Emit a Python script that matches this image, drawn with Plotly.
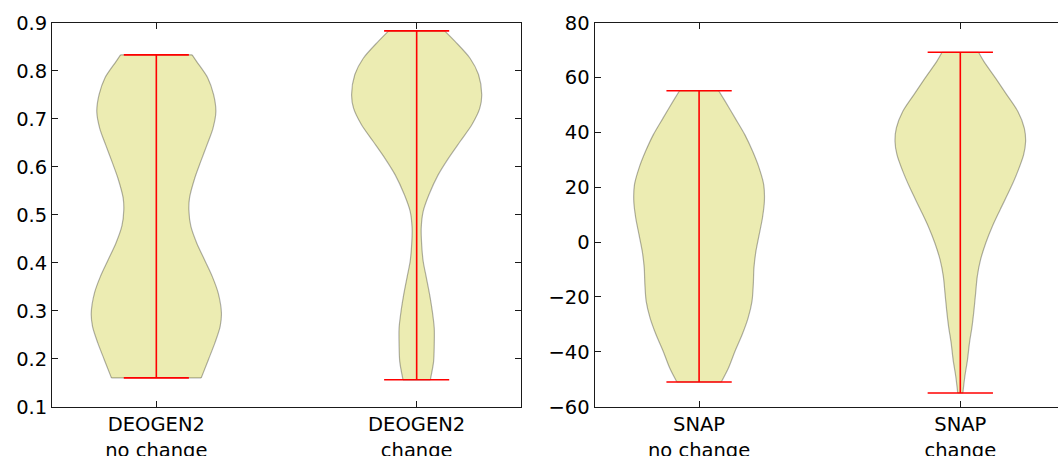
import plotly.graph_objects as go

# ---- data -------------------------------------------------------------
left_categories = ["DEOGEN2<br>no change", "DEOGEN2<br>change"]
right_categories = ["SNAP<br>no change", "SNAP<br>change"]

left_ticks = [0.1, 0.2, 0.3, 0.4, 0.5, 0.6, 0.7, 0.8, 0.9]
left_tick_labels = ["0.1", "0.2", "0.3", "0.4", "0.5", "0.6", "0.7", "0.8", "0.9"]
right_ticks = [-60, -40, -20, 0, 20, 40, 60, 80]
right_tick_labels = ["\u221260", "\u221240", "\u221220", "0", "20", "40", "60", "80"]

# kernel density profiles (value, relative density with peak = 1)
deogen_nc_y = [0.160, 0.198, 0.233, 0.267, 0.295, 0.337, 0.371, 0.406, 0.441, 0.476,
               0.510, 0.535, 0.576, 0.610, 0.646, 0.680, 0.715, 0.750, 0.785, 0.819, 0.833]
deogen_nc_d = [0.69, 0.80, 0.90, 0.98, 1.00, 0.95, 0.86, 0.74, 0.62, 0.53,
               0.50, 0.51, 0.59, 0.68, 0.78, 0.87, 0.915, 0.88, 0.79, 0.62, 0.55]

deogen_c_y = [0.156, 0.194, 0.229, 0.264, 0.299, 0.333, 0.368, 0.403, 0.4375, 0.472,
              0.507, 0.542, 0.583, 0.618, 0.653, 0.688, 0.722, 0.750, 0.792, 0.826,
              0.861, 0.883]
deogen_c_d = [0.21, 0.26, 0.27, 0.27, 0.24, 0.20, 0.15, 0.10, 0.077, 0.07,
              0.10, 0.19, 0.33, 0.49, 0.67, 0.85, 0.97, 1.00, 0.95, 0.82,
              0.59, 0.43]

snap_nc_y = [-51.0, -45.9, -39.8, -33.7, -27.7, -21.6, -15.5, -9.4, -3.4, 2.7,
             8.8, 14.9, 20.9, 27.0, 33.1, 39.2, 45.3, 51.3, 55.2]
snap_nc_d = [0.34, 0.45, 0.55, 0.66, 0.75, 0.81, 0.83, 0.84, 0.87, 0.92,
             0.97, 1.00, 0.99, 0.92, 0.82, 0.70, 0.55, 0.40, 0.30]

snap_c_y = [-55.0, -53.8, -48.9, -42.9, -36.8, -30.7, -24.6, -18.5, -12.5, -6.4,
            -0.3, 5.7, 11.8, 19.7, 25.8, 31.9, 36.7, 41.6, 47.7, 53.8,
            59.8, 65.9, 69.2]
snap_c_d = [0.04, 0.045, 0.07, 0.11, 0.14, 0.18, 0.21, 0.235, 0.26, 0.31,
            0.39, 0.49, 0.61, 0.77, 0.88, 0.97, 1.00, 0.98, 0.88, 0.71,
            0.54, 0.36, 0.28]

# ---- style ------------------------------------------------------------
FONT = "DejaVu Sans"
FS = 19.5
FILL = "rgba(191,191,0,0.3)"
EDGE = "rgba(0,0,0,0.3)"
RED = "#ff0000"
HALF_WIDTH = 0.25   # max half-width of a violin body (x units)
CAP = 0.125         # half-length of the extrema caps
SPINE = "#1a1a1a"

fig = go.Figure()


def add_violin(pos, ys, dens, xa, ya):
    right = [pos + HALF_WIDTH * d for d in dens]
    left = [pos - HALF_WIDTH * d for d in dens]
    common = dict(xaxis=xa, yaxis=ya, hoverinfo="skip", showlegend=False)
    line = dict(color=EDGE, width=1.2, shape="spline", smoothing=0.8)
    fig.add_trace(go.Scatter(x=right, y=ys, mode="lines", line=line, **common))
    fig.add_trace(go.Scatter(x=left, y=ys, mode="lines", line=line,
                             fill="tonextx", fillcolor=FILL, **common))
    # flat ends of the body
    fig.add_trace(go.Scatter(x=[left[0], right[0], None, left[-1], right[-1]],
                             y=[ys[0], ys[0], None, ys[-1], ys[-1]],
                             mode="lines", line=dict(color=EDGE, width=1.2), **common))
    # extrema bar and caps
    lo, hi = ys[0], ys[-1]
    fig.add_trace(go.Scatter(x=[pos, pos, None, pos - CAP, pos + CAP, None, pos - CAP, pos + CAP],
                             y=[lo, hi, None, lo, lo, None, hi, hi],
                             mode="lines", line=dict(color=RED, width=1.6), **common))


add_violin(1, deogen_nc_y, deogen_nc_d, "x", "y")
add_violin(2, deogen_c_y, deogen_c_d, "x", "y")
add_violin(1, snap_nc_y, snap_nc_d, "x2", "y2")
add_violin(2, snap_c_y, snap_c_d, "x2", "y2")

W, H = 1058, 456
tickfont = dict(family=FONT, size=FS, color="black")
axis_common = dict(showgrid=False, zeroline=False, showline=True, linecolor=SPINE,
                   linewidth=1.3, ticks="inside", ticklen=6, tickwidth=1.1,
                   tickcolor=SPINE, tickfont=tickfont, fixedrange=True,
                   automargin=False)

ydom = [1 - 406.7 / H, 1 - 22.7 / H]

fig.update_layout(
    template="none",
    width=W, height=H,
    margin=dict(l=0, r=0, t=0, b=0, pad=0),
    paper_bgcolor="white", plot_bgcolor="white",
    font=dict(family=FONT, size=FS, color="black"),
    xaxis=dict(domain=[52.2 / W, 520.8 / W], range=[0.6, 2.4],
               tickvals=[1, 2], ticktext=left_categories, mirror="ticks",
               anchor="y", **axis_common),
    yaxis=dict(domain=ydom, range=[0.1, 0.9], tickvals=left_ticks,
               ticktext=left_tick_labels, mirror="ticks", anchor="x", **axis_common),
    xaxis2=dict(domain=[594.6 / W, 1.0], range=[0.6, 2.374],
                tickvals=[1, 2], ticktext=right_categories, mirror="ticks",
                anchor="y2", **axis_common),
    yaxis2=dict(domain=ydom, range=[-60, 80], tickvals=right_ticks,
                ticktext=right_tick_labels, mirror=False, anchor="x2", **axis_common),
)

fig.write_html("out.html")
